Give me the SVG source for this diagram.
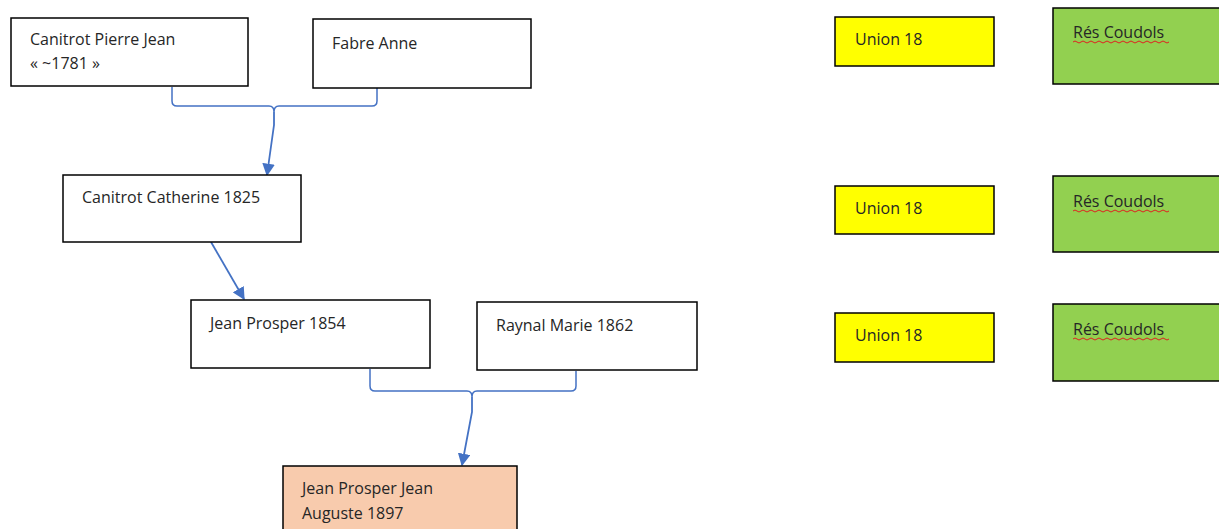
<svg xmlns="http://www.w3.org/2000/svg" width="1219" height="529" viewBox="0 0 1219 529">
<defs>
<style>
.box{fill:#ffffff;stroke:#000000;stroke-width:1.5}
.me{fill:#f8cbad;stroke:#000000;stroke-width:1.5}
.un{fill:#ffff00;stroke:#000000;stroke-width:1.5}
.res{fill:#92d050;stroke:#000000;stroke-width:1.5}
.t{font-family:"Open Sans","Liberation Sans",sans-serif;font-size:16px;fill:#262626}
.c{fill:none;stroke:#4472c4;stroke-width:1.5}
.a{fill:none;stroke:#4472c4;stroke-width:1.8;marker-end:url(#ah)}
.sq{fill:none;stroke:#e02020;stroke-width:1}
</style>
<marker id="ah" viewBox="0 0 10 10" refX="9" refY="5" markerWidth="7" markerHeight="7" orient="auto" markerUnits="strokeWidth">
<path d="M0,0 L10,5 L0,10 z" fill="#4472c4"/>
</marker>
</defs>
<rect width="1219" height="529" fill="#ffffff"/>
<g id="connectors">
<path class="c" d="M172,87 L172,101 Q172,106 177,106 L269,106 Q274,106 274,112 Q274,106 279,106 L372,106 Q377,106 377,101 L377,88"/>
<path class="a" d="M274,112 L274,125 L267,175"/>
<path class="a" d="M211,242 L244,299"/>
<path class="c" d="M370,369 L370,386 Q370,391 375,391 L467,391 Q472,391 472,397 Q472,391 477,391 L571,391 Q576,391 576,386 L576,371"/>
<path class="a" d="M472,397 L472,412 L462,465"/>
</g>
<g id="n1"><rect class="box" x="11" y="18" width="237" height="68"/><text class="t" x="30" y="45">Canitrot Pierre Jean</text><text class="t" x="30" y="69">« ~1781 »</text></g>
<g id="n2"><rect class="box" x="313" y="19" width="218" height="69"/><text class="t" x="332" y="49">Fabre Anne</text></g>
<g id="n3"><rect class="box" x="63" y="175" width="238" height="67"/><text class="t" x="82" y="203">Canitrot Catherine 1825</text></g>
<g id="n4"><rect class="box" x="191" y="300" width="239" height="68"/><text class="t" x="210" y="329">Jean Prosper 1854</text></g>
<g id="n5"><rect class="box" x="477" y="302" width="220" height="68"/><text class="t" x="496" y="331">Raynal Marie 1862</text></g>
<g id="n6"><rect class="me" x="283" y="466" width="234" height="70"/><text class="t" x="302" y="494">Jean Prosper Jean</text><text class="t" x="302" y="519">Auguste 1897</text></g>
<g id="u1"><rect class="un" x="835" y="17" width="159" height="49"/><text class="t" x="855" y="45">Union 18</text></g>
<g id="u2"><rect class="un" x="835" y="186" width="159" height="48"/><text class="t" x="855" y="214">Union 18</text></g>
<g id="u3"><rect class="un" x="835" y="313" width="159" height="49"/><text class="t" x="855" y="341">Union 18</text></g>
<g id="r1"><rect class="res" x="1053" y="8" width="170" height="76"/><text class="t" x="1073" y="38">Rés Coudols</text><path class="sq" d="M1073,42 q2,-2 4,0 t4,0 t4,0 t4,0 t4,0 t4,0 t4,0 t4,0 t4,0 t4,0 t4,0 t4,0 t4,0 t4,0 t4,0 t4,0 t4,0 t4,0 t4,0 t4,0 t4,0 t4,0 t4,0 t4,0"/></g>
<g id="r2"><rect class="res" x="1053" y="176" width="170" height="76"/><text class="t" x="1073" y="207">Rés Coudols</text><path class="sq" d="M1073,211 q2,-2 4,0 t4,0 t4,0 t4,0 t4,0 t4,0 t4,0 t4,0 t4,0 t4,0 t4,0 t4,0 t4,0 t4,0 t4,0 t4,0 t4,0 t4,0 t4,0 t4,0 t4,0 t4,0 t4,0 t4,0"/></g>
<g id="r3"><rect class="res" x="1053" y="304" width="170" height="77"/><text class="t" x="1073" y="335">Rés Coudols</text><path class="sq" d="M1073,339 q2,-2 4,0 t4,0 t4,0 t4,0 t4,0 t4,0 t4,0 t4,0 t4,0 t4,0 t4,0 t4,0 t4,0 t4,0 t4,0 t4,0 t4,0 t4,0 t4,0 t4,0 t4,0 t4,0 t4,0 t4,0"/></g>
</svg>
